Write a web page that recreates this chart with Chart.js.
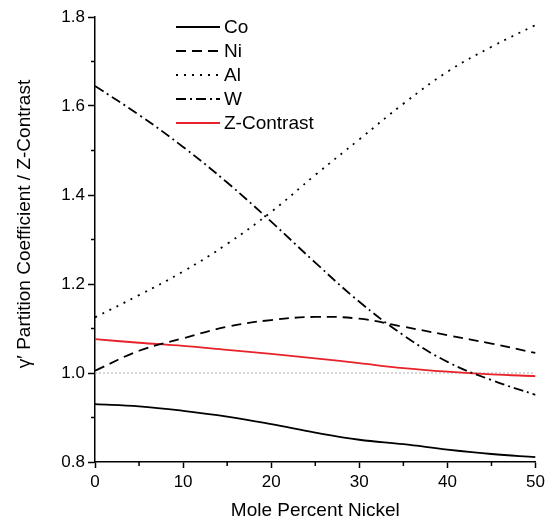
<!DOCTYPE html>
<html>
<head>
<meta charset="utf-8">
<script src="https://cdn.jsdelivr.net/npm/chart.js@4"></script>
<style>
  html, body { margin: 0; padding: 0; background: #fff; }
  #wrap { width: 549px; height: 522px; position: relative; }
</style>
</head>
<body>
<div id="wrap"><canvas id="chart"></canvas></div>
<script>
// Values
const nickel = [0, 5, 10, 15, 20, 25, 30, 35, 40, 45, 50];
const co = [0.930, 0.925, 0.915, 0.902, 0.885, 0.866, 0.850, 0.840, 0.828, 0.818, 0.811];
const ni = [1.005, 1.050, 1.078, 1.104, 1.119, 1.126, 1.122, 1.104, 1.085, 1.066, 1.045];
const al = [1.125, 1.175, 1.228, 1.290, 1.362, 1.445, 1.525, 1.605, 1.677, 1.733, 1.782];
const w = [1.645, 1.580, 1.508, 1.428, 1.340, 1.248, 1.160, 1.085, 1.025, 0.984, 0.951];
const zContrast = [1.076, 1.068, 1.061, 1.052, 1.043, 1.033, 1.022, 1.011, 1.003, 0.997, 0.993];
const refLevel = [1.0, 1.0];
const refX = [0, 50];

const xTicks = [0, 10, 20, 30, 40, 50];
const xMinor = [5, 15, 25, 35, 45];
const yTicks = [0.8, 1.0, 1.2, 1.4, 1.6, 1.8];
const yMinor = [0.9, 1.1, 1.3, 1.5, 1.7];

const FONT = '"Liberation Sans", Arial, sans-serif';

function pts(xs, ys) {
    return xs.map((x, i) => ({ x: x, y: ys[i] }));
}

function series(label, ys, color, dash) {
    return {
        label: label,
        data: pts(nickel, ys),
        borderColor: color,
        borderWidth: 1.8,
        borderDash: dash,
        pointRadius: 0,
        fill: false,
        tension: 0.4
    };
}

// minor ticks, legend and the rotated y title
const extras = {
    id: 'extras',
    afterDraw(chart) {
        const ctx = chart.ctx;
        const xs = chart.scales.x, ys = chart.scales.y;
        const area = chart.chartArea;
        ctx.save();
        ctx.strokeStyle = '#000';
        ctx.lineWidth = 1.5;
        ctx.beginPath();
        xMinor.forEach(v => {
            const px = xs.getPixelForValue(v);
            ctx.moveTo(px, area.bottom);
            ctx.lineTo(px, area.bottom + 4);
        });
        yMinor.forEach(v => {
            const py = ys.getPixelForValue(v);
            ctx.moveTo(area.left, py);
            ctx.lineTo(area.left - 4, py);
        });
        ctx.stroke();

        // legend
        const sets = chart.data.datasets.filter(d => !d.hideInLegend);
        ctx.font = '19px ' + FONT;
        ctx.textBaseline = 'middle';
        ctx.fillStyle = '#000';
        sets.forEach((d, i) => {
            const y = 27 + i * 24;
            ctx.beginPath();
            ctx.strokeStyle = d.borderColor;
            ctx.lineWidth = d.borderWidth;
            ctx.setLineDash(d.borderDash || []);
            ctx.moveTo(176, y);
            ctx.lineTo(220, y);
            ctx.stroke();
            ctx.setLineDash([]);
            ctx.fillText(d.label, 224, y + 1);
        });

        // y title
        ctx.translate(25, 224);
        ctx.rotate(-Math.PI / 2);
        ctx.textAlign = 'center';
        ctx.fillText('γ′ Partition Coefficient / Z-Contrast', 0, 0);
        ctx.restore();
    }
};

const ctx = document.getElementById('chart').getContext('2d');
new Chart(ctx, {
    type: 'line',
    data: {
        datasets: [
            series('Co', co, '#000', []),
            series('Ni', ni, '#000', [10, 6]),
            series('Al', al, '#000', [2, 6]),
            series('W', w, '#000', [10, 4, 2, 4]),
            series('Z-Contrast', zContrast, '#e8222a', []),
            {
                label: 'ref',
                hideInLegend: true,
                data: pts(refX, refLevel),
                borderColor: '#b0b0b0',
                borderWidth: 1,
                borderDash: [2, 2],
                pointRadius: 0
            }
        ]
    },
    options: {
        responsive: true,
        maintainAspectRatio: false,
        animation: false,
        layout: { padding: { top: 17, right: 10, left: 0, bottom: 0 } },
        plugins: {
            legend: { display: false },
            tooltip: { enabled: false }
        },
        scales: {
            x: {
                type: 'linear',
                min: 0,
                max: 50,
                afterBuildTicks: s => { s.ticks = xTicks.map(v => ({ value: v })); },
                afterFit: s => { s.height = 60; },
                grid: { display: true, drawOnChartArea: false, tickLength: 6, tickColor: '#000', tickWidth: 1.5 },
                border: { color: '#000', width: 1.5 },
                ticks: { color: '#000', font: { family: FONT, size: 17 }, padding: 4, maxRotation: 0 },
                title: {
                    display: true,
                    text: 'Mole Percent Nickel',
                    color: '#000',
                    font: { family: FONT, size: 19 },
                    padding: { top: 6, bottom: 0 }
                }
            },
            y: {
                min: 0.8,
                max: 1.8,
                afterBuildTicks: s => { s.ticks = yTicks.map(v => ({ value: v })); },
                afterFit: s => { s.width = 95; },
                grid: { display: true, drawOnChartArea: false, tickLength: 7, tickColor: '#000', tickWidth: 1.5 },
                border: { color: '#000', width: 1.5 },
                ticks: {
                    color: '#000',
                    font: { family: FONT, size: 17 },
                    padding: 3,
                    callback: v => v.toFixed(1)
                }
            }
        }
    },
    plugins: [extras]
});
</script>
</body>
</html>
